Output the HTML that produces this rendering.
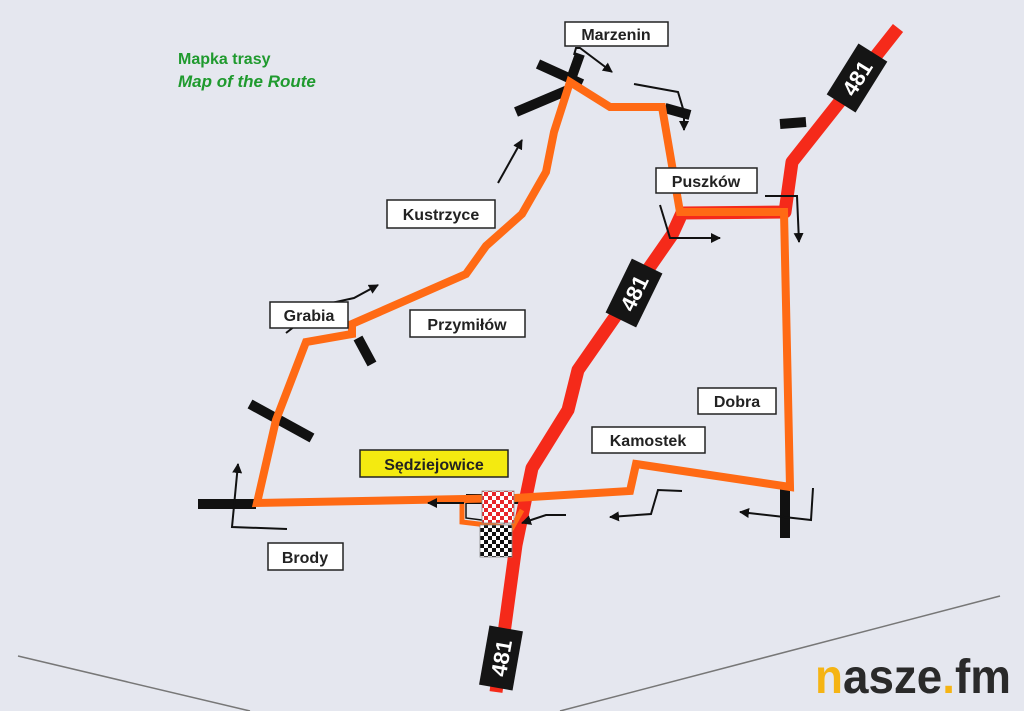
<!DOCTYPE html>
<html><head><meta charset="utf-8"><style>
html,body{margin:0;padding:0;background:#e5e7ef;}
svg{display:block}
text{font-family:"Liberation Sans",sans-serif;}
</style></head><body>
<svg width="1024" height="711" viewBox="0 0 1024 711" xmlns="http://www.w3.org/2000/svg">
<defs>
<marker id="a" viewBox="0 0 10 10" refX="9" refY="5" markerWidth="5" markerHeight="5" orient="auto"><path d="M0,0L10,5L0,10z" fill="#111"/></marker>
<pattern id="chkR" width="8" height="8" patternUnits="userSpaceOnUse"><rect width="8" height="8" fill="#fff"/><rect width="4" height="4" fill="#e8262a"/><rect x="4" y="4" width="4" height="4" fill="#e8262a"/></pattern>
<pattern id="chkB" width="8" height="8" patternUnits="userSpaceOnUse"><rect width="8" height="8" fill="#fff"/><rect width="4" height="4" fill="#111"/><rect x="4" y="4" width="4" height="4" fill="#111"/></pattern>
</defs>
<rect width="1024" height="711" fill="#e5e7ef"/>
<line x1="18" y1="656" x2="250" y2="711" stroke="#777" stroke-width="1.5"/>
<line x1="560" y1="711" x2="1000" y2="596" stroke="#777" stroke-width="1.5"/>
<text x="178" y="64" font-size="16" font-weight="bold" fill="#1f9a2e">Mapka trasy</text>
<text x="178" y="87" font-size="17" font-weight="bold" font-style="italic" fill="#1f9a2e">Map of the Route</text>

<g stroke="#111" stroke-width="10" fill="none">
<line x1="198" y1="504" x2="256" y2="504"/>
<line x1="250" y1="404" x2="312" y2="438"/>
<line x1="358" y1="338" x2="372" y2="364"/>
<line x1="516" y1="112" x2="568" y2="90"/>
<line x1="538" y1="64" x2="582" y2="84"/>
<line x1="580" y1="54" x2="570" y2="82"/>
<line x1="665" y1="108" x2="690" y2="115"/>
<line x1="780" y1="124" x2="806" y2="122"/>
<line x1="785" y1="488" x2="785" y2="538"/>
<line x1="466" y1="499" x2="520" y2="499"/>
</g>
<polyline points="898,28 792,162 785,212 682,213 672,235 578,370 568,410 532,468 516,545 496,692" fill="none" stroke="#f52a1a" stroke-width="13" stroke-linejoin="round"/>
<polyline points="516,498 257,503 276,420 306,342 352,334 352,324 466,274 486,246 522,214 546,172 554,132 570,82 610,107 662,107 680,212 784,212 790,487 636,464 630,491 515,498" fill="none" stroke="#ff6a14" stroke-width="8" stroke-linejoin="miter"/>
<polyline points="480,500 462,500 462,522 512,528 522,510" fill="none" stroke="#ff6a14" stroke-width="5"/>
<polyline points="466,503 466,518 505,523" fill="none" stroke="#111" stroke-width="1.5"/>
<rect x="482" y="491" width="32" height="32" fill="url(#chkR)" stroke="#888" stroke-width="0.8"/>
<rect x="480" y="525" width="32" height="32" fill="url(#chkB)" stroke="#888" stroke-width="0.8"/>

<g stroke="#111" stroke-width="2" fill="none" marker-end="url(#a)">
<polyline points="287,529 232,527 238,464"/>
<polyline points="286,333 322,305 354,298 378,285"/>
<polyline points="498,183 522,140"/>
<polyline points="574,55 576,48 580,48 612,72"/>
<polyline points="634,84 678,92 684,112 684,130"/>
<polyline points="660,205 670,238 720,238"/>
<polyline points="765,196 797,196 799,242"/>
<polyline points="813,488 811,520 740,512"/>
<polyline points="682,491 658,490 651,514 610,517"/>
<polyline points="566,515 546,515 522,523"/>
<polyline points="464,503 428,503"/>
</g>

<g font-size="16" font-weight="bold" fill="#222">
<rect x="565" y="22" width="103" height="24" fill="#fff" stroke="#222" stroke-width="1.5"/>
<text x="616" y="40" text-anchor="middle">Marzenin</text>
<rect x="656" y="168" width="101" height="25" fill="#fff" stroke="#222" stroke-width="1.5"/>
<text x="706" y="187" text-anchor="middle">Puszków</text>
<rect x="387" y="200" width="108" height="28" fill="#fff" stroke="#222" stroke-width="1.5"/>
<text x="441" y="220" text-anchor="middle">Kustrzyce</text>
<rect x="270" y="302" width="78" height="26" fill="#fff" stroke="#222" stroke-width="1.5"/>
<text x="309" y="321" text-anchor="middle">Grabia</text>
<rect x="410" y="310" width="115" height="27" fill="#fff" stroke="#222" stroke-width="1.5"/>
<text x="467" y="330" text-anchor="middle">Przymiłów</text>
<rect x="698" y="388" width="78" height="26" fill="#fff" stroke="#222" stroke-width="1.5"/>
<text x="737" y="407" text-anchor="middle">Dobra</text>
<rect x="592" y="427" width="113" height="26" fill="#fff" stroke="#222" stroke-width="1.5"/>
<text x="648" y="446" text-anchor="middle">Kamostek</text>
<rect x="360" y="450" width="148" height="27" fill="#f4ea10" stroke="#222" stroke-width="1.5"/>
<text x="434" y="470" text-anchor="middle">Sędziejowice</text>
<rect x="268" y="543" width="75" height="27" fill="#fff" stroke="#222" stroke-width="1.5"/>
<text x="305" y="563" text-anchor="middle">Brody</text>
</g>
<g font-size="22" font-weight="bold" fill="#fff">
<g transform="translate(857,78) rotate(-58)"><rect x="-30" y="-17" width="60" height="34" fill="#151515"/><text x="0" y="8" text-anchor="middle">481</text></g>
<g transform="translate(634,293) rotate(-64)"><rect x="-30" y="-17" width="60" height="34" fill="#151515"/><text x="0" y="8" text-anchor="middle">481</text></g>
<g transform="translate(501,658) rotate(-80)"><rect x="-30" y="-17" width="60" height="34" fill="#151515"/><text x="0" y="8" text-anchor="middle">481</text></g>
</g>
<text x="815" y="693" font-size="48" font-weight="bold" textLength="196" lengthAdjust="spacingAndGlyphs"><tspan fill="#f5b414">n</tspan><tspan fill="#2a2a2a">asze</tspan><tspan fill="#f5b414">.</tspan><tspan fill="#2a2a2a">fm</tspan></text>
</svg>
</body></html>
